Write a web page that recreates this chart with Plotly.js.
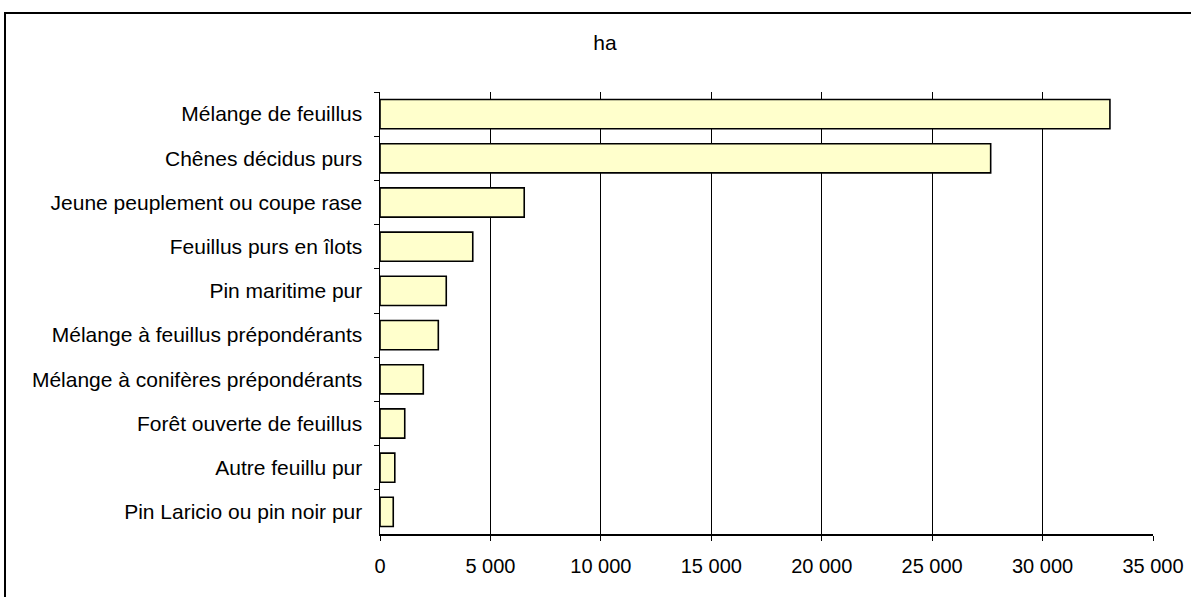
<!DOCTYPE html>
<html>
<head>
<meta charset="utf-8">
<script src="https://cdn.plot.ly/plotly-3.0.1.min.js"></script>
<style>
html,body{margin:0;padding:0;background:#fff;overflow:hidden;}
#chart{position:absolute;left:0;top:0;width:1191px;height:597px;}
#frame{position:absolute;left:4px;top:12px;width:1200px;height:600px;border:2px solid #000;pointer-events:none;box-sizing:border-box;}
</style>
</head>
<body>
<div id="chart"></div>
<div id="frame"></div>
<script>
const categories = [
  "Mélange de feuillus",
  "Chênes décidus purs",
  "Jeune peuplement ou coupe rase",
  "Feuillus purs en îlots",
  "Pin maritime pur",
  "Mélange à feuillus prépondérants",
  "Mélange à conifères prépondérants",
  "Forêt ouverte de feuillus",
  "Autre feuillu pur",
  "Pin Laricio ou pin noir pur"
];
const values = [33050, 27650, 6530, 4200, 3000, 2640, 1960, 1120, 670, 600];
const xTicks = [0, 5000, 10000, 15000, 20000, 25000, 30000, 35000];
const titleText = "ha";

const trace = {
  type: 'bar',
  orientation: 'h',
  y: categories,
  x: values,
  marker: {color: '#FFFFCC', line: {color: '#000000', width: 1.6}},
  hoverinfo: 'x+y'
};

const layout = {
  width: 1191,
  height: 597,
  paper_bgcolor: '#ffffff',
  plot_bgcolor: '#ffffff',
  separators: ', ',
  margin: {l: 380, r: 38, t: 92, b: 63},
  font: {family: 'Liberation Sans, Arial, sans-serif', size: 20, color: '#000'},
  title: {text: titleText, x: 0.508, xref: 'container', y: 0.928, yref: 'container', yanchor: 'middle', xanchor: 'center', font: {size: 21, color: '#000'}},
  bargap: 0.34,
  showlegend: false,
  xaxis: {
    range: [0, 35000],
    tickvals: xTicks,
    tickformat: ',d',
    showgrid: true,
    gridcolor: '#000000',
    gridwidth: 1,
    zeroline: false,
    showline: true,
    linecolor: '#000',
    linewidth: 1.5,
    ticks: 'outside',
    ticklen: 5,
    tickcolor: '#000',
    ticklabelstandoff: 8,
    tickfont: {size: 20}
  },
  yaxis: {
    type: 'category',
    autorange: 'reversed',
    showline: true,
    linecolor: '#000',
    linewidth: 1.5,
    ticks: 'outside',
    tickson: 'boundaries',
    ticklen: 5,
    tickcolor: '#000',
    showgrid: false,
    ticklabelstandoff: 12,
    tickfont: {size: 21}
  }
};

Plotly.newPlot('chart', [trace], layout, {displayModeBar: false, staticPlot: true});
</script>
</body>
</html>
